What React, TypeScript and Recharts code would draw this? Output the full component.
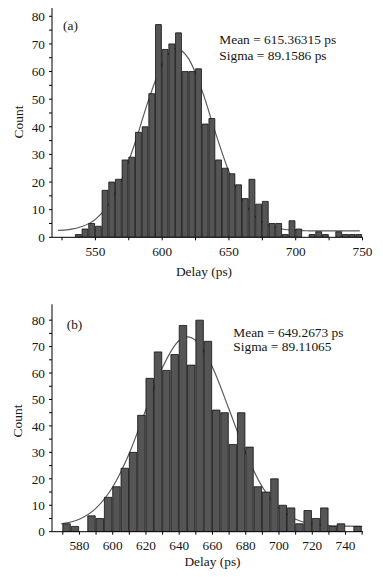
import React from 'react';
import { ComposedChart, Bar, Line, XAxis, YAxis } from 'recharts';

// ---------- Panel (a) ----------
const binStartA = [535, 540, 545, 550, 555, 560, 565, 570, 575, 580, 585, 590, 595, 600, 605, 610, 615, 620, 625, 630, 635, 640, 645, 650, 655, 660, 665, 670, 675, 680, 685, 690, 695, 700, 705, 710, 715, 720, 725, 730, 735, 740, 745];
const countsA = [1, 3, 5, 4, 17, 20, 21, 28, 29, 38, 40, 52, 77, 68, 70, 74, 60, 60, 61, 41, 43, 28, 25, 23, 19, 14, 21, 12, 13, 5, 5, 1, 6, 3, 0, 1, 2, 1, 0, 2, 1, 1, 1];
const fitXA = [522, 530, 540, 550, 560, 570, 580, 590, 600, 610, 620, 630, 640, 650, 660, 670, 680, 690, 700, 710, 720, 730, 740, 748];
const fitYA = [2.5, 2.8, 3.9, 6.5, 11.9, 21.3, 34.7, 50, 62.6, 68.3, 64.5, 52.9, 37.7, 23.7, 13.5, 7.3, 4.3, 3.0, 2.5, 2.35, 2.3, 2.3, 2.3, 2.3];
const xTicksA = [525, 550, 575, 600, 625, 650, 675, 700, 725, 750];
const xLabelsA = [550, 600, 650, 700, 750];

// ---------- Panel (b) ----------
const binStartB = [570, 575, 580, 585, 590, 595, 600, 605, 610, 615, 620, 625, 630, 635, 640, 645, 650, 655, 660, 665, 670, 675, 680, 685, 690, 695, 700, 705, 710, 715, 720, 725, 730, 735, 740, 745];
const countsB = [3, 2, 0, 6, 5, 13, 17, 24, 30, 44, 58, 68, 61, 67, 78, 63, 80, 72, 46, 45, 33, 45, 32, 17, 15, 20, 10, 9, 3, 8, 5, 9, 2, 3, 0, 2];
const fitXB = [569, 580, 590, 600, 610, 620, 630, 640, 645, 650, 660, 670, 680, 690, 700, 710, 720, 730, 740, 750];
const fitYB = [3.0, 4.7, 8.9, 16.9, 29.7, 46.2, 62.2, 72.3, 73.7, 72.3, 62.2, 46.2, 29.7, 16.9, 8.9, 4.7, 2.9, 2.3, 2.1, 2.0];
const xTicksB = [570, 580, 590, 600, 610, 620, 630, 640, 650, 660, 670, 680, 690, 700, 710, 720, 730, 740, 750];
const xLabelsB = [580, 600, 620, 640, 660, 680, 700, 720, 740];

const yTicks = [0, 5, 10, 15, 20, 25, 30, 35, 40, 45, 50, 55, 60, 65, 70, 75, 80];
const yLabels = [0, 10, 20, 30, 40, 50, 60, 70, 80];

const binWidth = 5;
const FONT = '"Liberation Serif", "Times New Roman", serif';
const TXT = '#151515';

type HistProps = {
  bins: number[];
  counts: number[];
  fitX: number[];
  fitY: number[];
  xDomain: [number, number];
  yMax: number;
  xTicks: number[];
  xLabels: number[];
  height: number;
  marginTop: number;
  marginRight: number;
  xAxisHeight: number;
  tickMarginX: number;
  barSize: number;
};

function Axes(p: HistProps & { visible: boolean }) {
  const tickStyle = { fill: TXT, fontSize: 13.3, fontFamily: FONT };
  const line = p.visible ? { stroke: '#000', strokeWidth: 1 } : false;
  return [
    <XAxis
      key="x"
      type="number"
      dataKey="x"
      domain={p.xDomain}
      allowDataOverflow
      ticks={p.xTicks}
      interval={0}
      tickFormatter={(v: number) => (p.xLabels.includes(v) ? String(v) : '')}
      tickSize={3}
      tickMargin={p.tickMarginX}
      height={p.xAxisHeight}
      axisLine={line}
      tickLine={line}
      tick={p.visible ? tickStyle : false}
    />,
    <YAxis
      key="y"
      type="number"
      domain={[0, p.yMax]}
      allowDataOverflow
      ticks={yTicks}
      interval={0}
      tickFormatter={(v: number) => (yLabels.includes(v) ? String(v) : '')}
      tickSize={3}
      tickMargin={4}
      width={52}
      axisLine={line}
      tickLine={line}
      tick={p.visible ? tickStyle : false}
    />,
  ];
}

function Hist(p: HistProps) {
  const barRows = p.bins.map((b, i) => ({ x: b + binWidth / 2, count: p.counts[i] }));
  const fitRows = p.fitX.map((x, i) => ({ x, fit: p.fitY[i] }));
  const margin = { top: p.marginTop, right: p.marginRight, bottom: 0, left: 0 };
  return (
    <div style={{ position: 'relative', width: 383, height: p.height }}>
      <div style={{ position: 'absolute', left: 0, top: 0 }}>
        <ComposedChart width={383} height={p.height} data={fitRows} margin={margin}>
          {Axes({ ...p, visible: false })}
          <Line
            dataKey="fit"
            type="monotone"
            dot={false}
            activeDot={false}
            stroke="#5a5a5a"
            strokeWidth={1.2}
            isAnimationActive={false}
          />
        </ComposedChart>
      </div>
      <div style={{ position: 'absolute', left: 0, top: 0 }}>
        <ComposedChart width={383} height={p.height} data={barRows} margin={margin}>
          {Axes({ ...p, visible: true })}
          <Bar
            dataKey="count"
            barSize={p.barSize}
            fill="#555555"
            stroke="#111111"
            strokeWidth={0.8}
            isAnimationActive={false}
          />
        </ComposedChart>
      </div>
    </div>
  );
}

export default function App() {
  const t = { fontFamily: FONT, fontSize: 13.4, fill: TXT } as const;
  return (
    <div style={{ position: 'absolute', left: 0, top: 0, width: 383, height: 577, background: '#fff' }}>
      <div style={{ position: 'absolute', left: 0, top: 0 }}>
        <Hist
          bins={binStartA}
          counts={countsA}
          fitX={fitXA}
          fitY={fitYA}
          xDomain={[517.5, 750]}
          yMax={83}
          xTicks={xTicksA}
          xLabels={xLabelsA}
          height={288}
          marginTop={8}
          marginRight={20.5}
          xAxisHeight={50.7}
          tickMarginX={6.5}
          barSize={5.9}
        />
      </div>
      <div style={{ position: 'absolute', left: 0, top: 288 }}>
        <Hist
          bins={binStartB}
          counts={countsB}
          fitX={fitXB}
          fitY={fitYB}
          xDomain={[563.5, 750.5]}
          yMax={86}
          xTicks={xTicksB}
          xLabels={xLabelsB}
          height={289}
          marginTop={16.3}
          marginRight={20}
          xAxisHeight={45.3}
          tickMarginX={6}
          barSize={7.5}
        />
      </div>
      <svg
        width={383}
        height={577}
        style={{ position: 'absolute', left: 0, top: 0, pointerEvents: 'none' }}
      >
        <text x={63} y={29.5} {...t}>(a)</text>
        <text x={219.3} y={44} {...t}>Mean = 615.36315 ps</text>
        <text x={219.3} y={59.5} {...t}>Sigma = 89.1586 ps</text>
        <text x={23} y={122} transform="rotate(-90 23 122)" textAnchor="middle" {...t}>Count</text>
        <text x={204} y={276} textAnchor="middle" {...t}>Delay (ps)</text>

        <text x={66.7} y={329} {...t}>(b)</text>
        <text x={233.3} y={337} {...t}>Mean = 649.2673 ps</text>
        <text x={233.3} y={351} {...t}>Sigma = 89.11065</text>
        <text x={22} y={421} transform="rotate(-90 22 421)" textAnchor="middle" {...t}>Count</text>
        <text x={212.5} y={566} textAnchor="middle" {...t}>Delay (ps)</text>
      </svg>
    </div>
  );
}
